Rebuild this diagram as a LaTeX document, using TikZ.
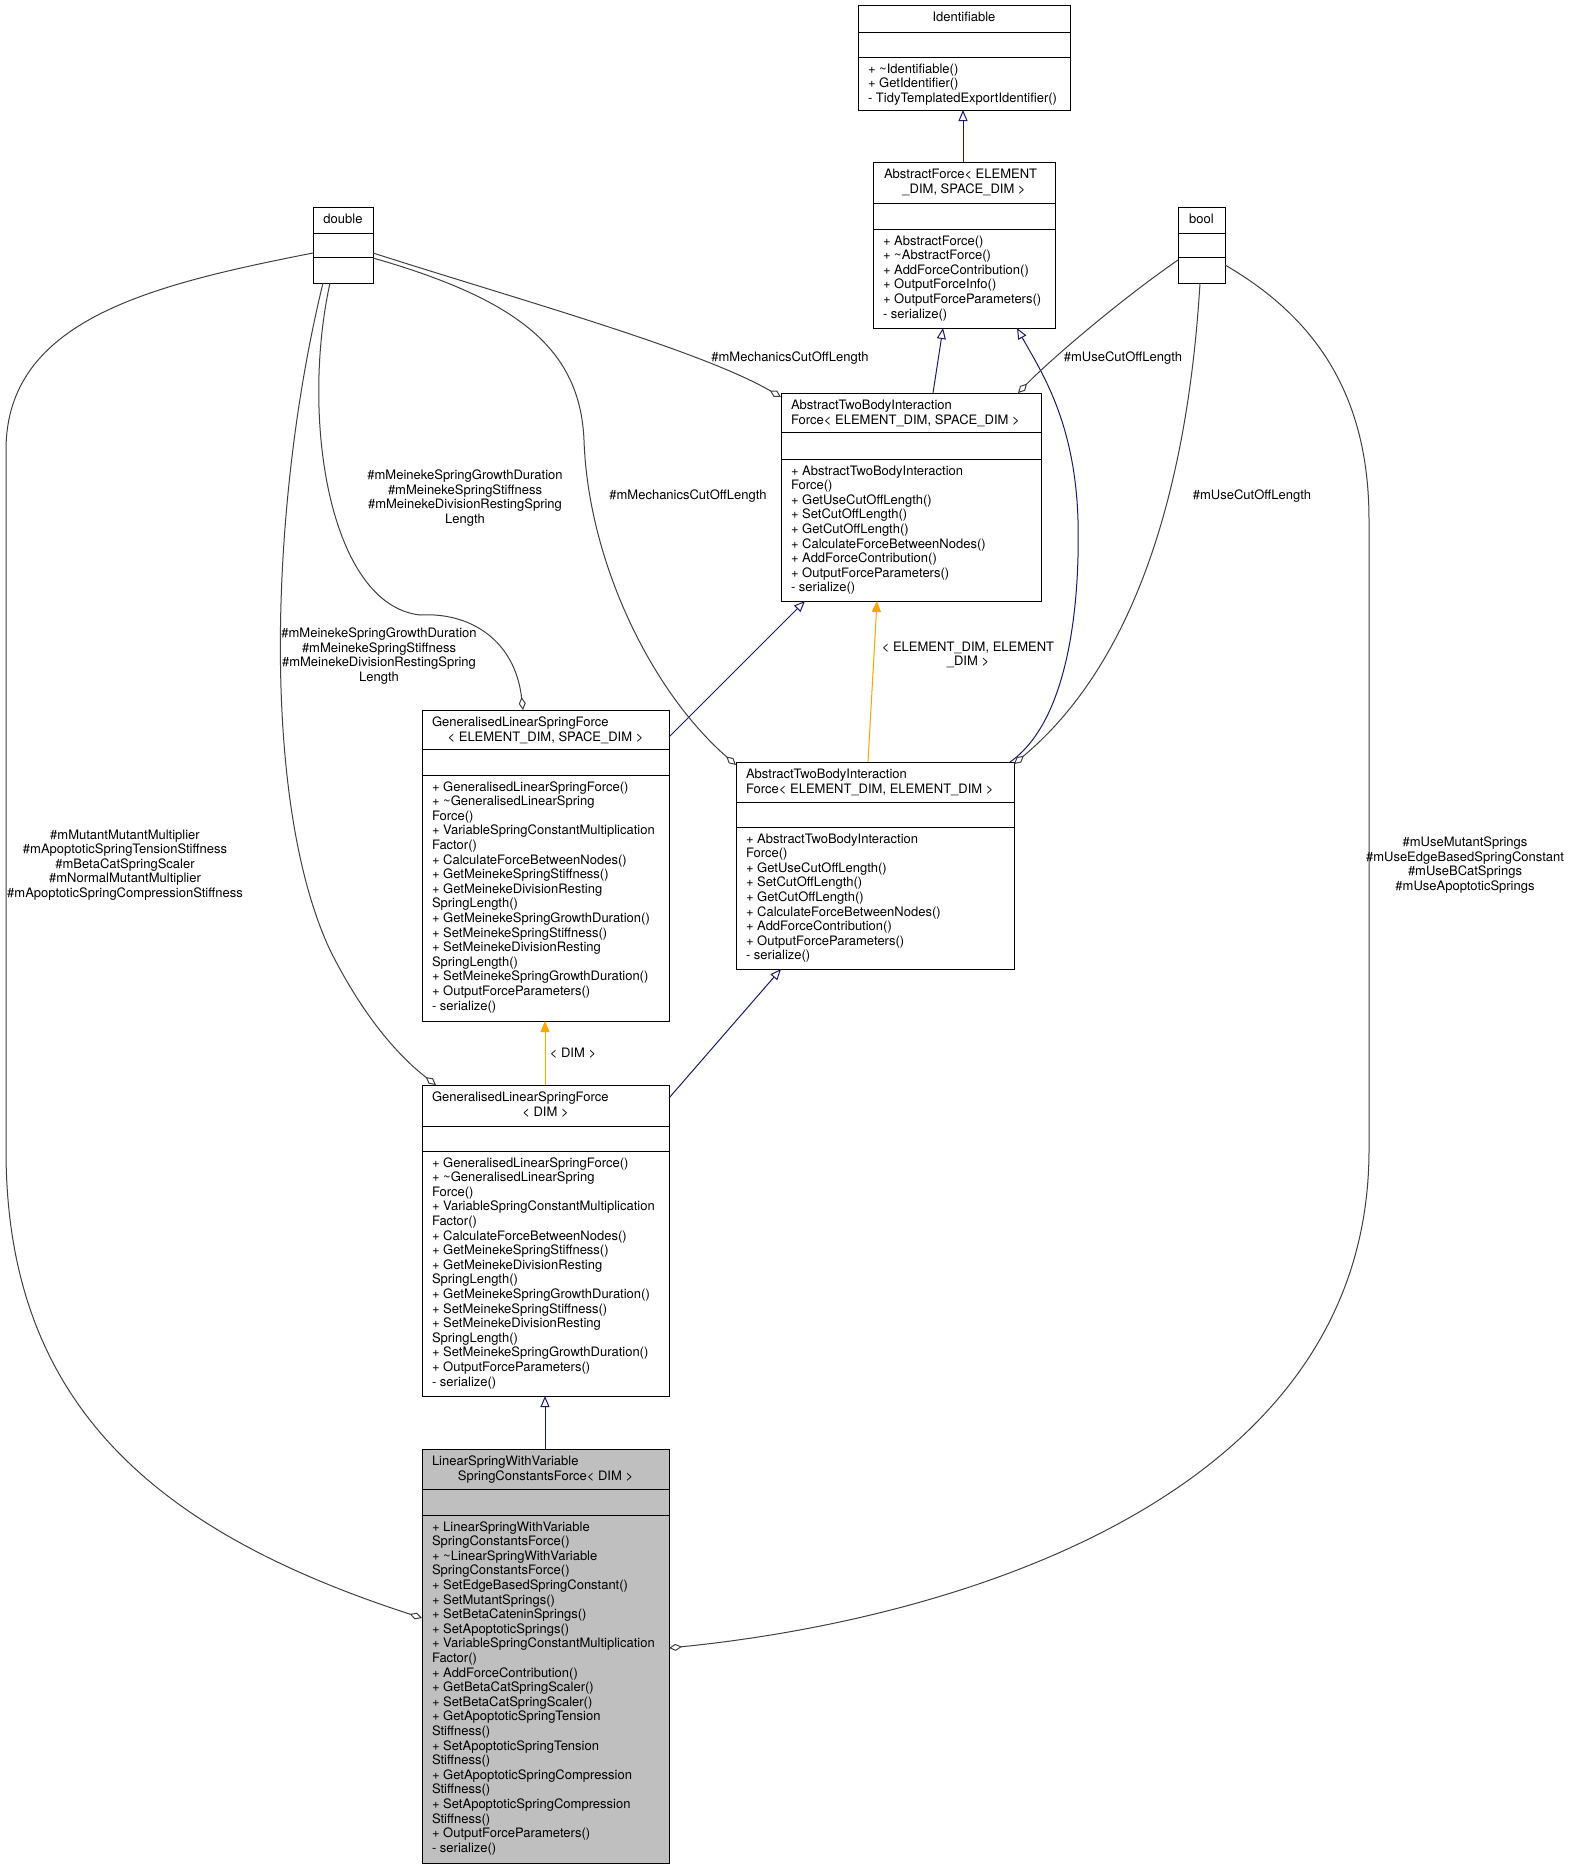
\documentclass[tikz,border=0pt]{standalone}
\usepackage{fontspec}
\setmainfont{TeX Gyre Heros}
\usetikzlibrary{arrows.meta,calc}
\definecolor{edgenavy}{HTML}{191970}
\definecolor{edgeorange}{HTML}{FFA500}
\definecolor{edgegray}{HTML}{404040}
\definecolor{boxgray}{HTML}{BFBFBF}
\newcommand\mystr{\vrule height 10pt depth 0pt width 0pt}
\newcommand\tld{\textasciitilde}
\newcommand\twoseps[3]{%
  \draw[line width=1pt] ($(#1.north west)+(0,#2)$) -- ($(#1.north east)+(0,#2)$);
  \draw[line width=1pt] ($(#1.north west)+(0,#3)$) -- ($(#1.north east)+(0,#3)$);}
\begin{document}
\begin{tikzpicture}[x=1pt,y=-1pt,
 box/.style={draw=black, line width=1pt, inner sep=0pt, outer sep=0pt, anchor=north west},
 fnt/.style={font=\fontsize{13}{14.6}\selectfont, inner sep=0pt, outer sep=0pt},
 mem/.style={fnt, align=left, anchor=north west},
 ttlL/.style={fnt, anchor=base west},
 ttlC/.style={fnt, anchor=base},
 lbl/.style={fnt, align=center},
 inh/.style={draw=edgenavy, line width=1pt, -{Triangle[open, length=11pt, width=9pt]}},
 tmpl/.style={draw=edgeorange, fill=edgeorange, line width=1pt, -{Triangle[length=11pt, width=9pt]}},
 agg/.style={draw=edgegray, line width=1pt, -{Diamond[open, length=13pt, width=7pt]}},
]
\useasboundingbox (0,0) rectangle (1571,1869);
\fill[white] (0,0) rectangle (1571,1869);

% ---------- Identifiable
\node[box, minimum width=212pt, minimum height=105pt] (ident) at (858,5) {};
\twoseps{ident}{27}{52}
\node[ttlC] (ident-t) at ($(ident.north)+(0,16.5)$) {Identifiable};
\node[mem] (ident-m) at ($(ident.north west)+(10,58)$) {\mystr+ \tld Identifiable()\\+ GetIdentifier()\\- TidyTemplatedExportIdentifier()};

% ---------- AbstractForce
\node[box, minimum width=182pt, minimum height=166pt] (aforce) at (873,162) {};
\twoseps{aforce}{41}{67}
\node[ttlL] (aforce-t1) at ($(aforce.north west)+(11,16.5)$) {AbstractForce< ELEMENT};
\node[ttlC] (aforce-t2) at ($(aforce.north)+(0,31.1)$) {\_DIM, SPACE\_DIM >};
\node[mem] (aforce-m) at ($(aforce.north west)+(10,73)$) {\mystr+ AbstractForce()\\+ \tld AbstractForce()\\+ AddForceContribution()\\+ OutputForceInfo()\\+ OutputForceParameters()\\- serialize()};

% ---------- double
\node[box, minimum width=60pt, minimum height=76pt] (dbl) at (313,207) {};
\twoseps{dbl}{26}{50}
\node[ttlC] (dbl-t) at ($(dbl.north)+(0,16.5)$) {double};

% ---------- bool
\node[box, minimum width=47pt, minimum height=76pt] (bool) at (1178,207) {};
\twoseps{bool}{26}{50}
\node[ttlC] (bool-t) at ($(bool.north)+(0,16.5)$) {bool};

% ---------- AbstractTwoBodyInteractionForce< ELEMENT_DIM, SPACE_DIM >
\node[box, minimum width=260pt, minimum height=208pt] (atbS) at (781,393) {};
\twoseps{atbS}{39}{66}
\node[ttlL] (atbS-t1) at ($(atbS.north west)+(10,16.5)$) {AbstractTwoBodyInteraction};
\node[ttlL] (atbS-t2) at ($(atbS.north west)+(10,31.1)$) {Force< ELEMENT\_DIM, SPACE\_DIM >};
\node[mem] (atbS-m) at ($(atbS.north west)+(10,72)$) {\mystr+ AbstractTwoBodyInteraction\\Force()\\+ GetUseCutOffLength()\\+ SetCutOffLength()\\+ GetCutOffLength()\\+ CalculateForceBetweenNodes()\\+ AddForceContribution()\\+ OutputForceParameters()\\- serialize()};

% ---------- GeneralisedLinearSpringForce< ELEMENT_DIM, SPACE_DIM >
\node[box, minimum width=247pt, minimum height=311pt] (glsS) at (422,710) {};
\twoseps{glsS}{39}{65}
\node[ttlL] (glsS-t1) at ($(glsS.north west)+(10,16.5)$) {GeneralisedLinearSpringForce};
\node[ttlC] (glsS-t2) at ($(glsS.north)+(0,31.1)$) {< ELEMENT\_DIM, SPACE\_DIM >};
\node[mem] (glsS-m) at ($(glsS.north west)+(10,71)$) {\mystr+ GeneralisedLinearSpringForce()\\+ \tld GeneralisedLinearSpring\\Force()\\+ VariableSpringConstantMultiplication\\Factor()\\+ CalculateForceBetweenNodes()\\+ GetMeinekeSpringStiffness()\\+ GetMeinekeDivisionResting\\SpringLength()\\+ GetMeinekeSpringGrowthDuration()\\+ SetMeinekeSpringStiffness()\\+ SetMeinekeDivisionResting\\SpringLength()\\+ SetMeinekeSpringGrowthDuration()\\+ OutputForceParameters()\\- serialize()};

% ---------- AbstractTwoBodyInteractionForce< ELEMENT_DIM, ELEMENT_DIM >
\node[box, minimum width=278pt, minimum height=207pt] (atbE) at (736,762) {};
\twoseps{atbE}{40}{65}
\node[ttlL] (atbE-t1) at ($(atbE.north west)+(10,16.5)$) {AbstractTwoBodyInteraction};
\node[ttlL] (atbE-t2) at ($(atbE.north west)+(10,31.1)$) {Force< ELEMENT\_DIM, ELEMENT\_DIM >};
\node[mem] (atbE-m) at ($(atbE.north west)+(10,71)$) {\mystr+ AbstractTwoBodyInteraction\\Force()\\+ GetUseCutOffLength()\\+ SetCutOffLength()\\+ GetCutOffLength()\\+ CalculateForceBetweenNodes()\\+ AddForceContribution()\\+ OutputForceParameters()\\- serialize()};

% ---------- GeneralisedLinearSpringForce< DIM >
\node[box, minimum width=247pt, minimum height=311pt] (glsD) at (422,1085) {};
\twoseps{glsD}{41}{66}
\node[ttlL] (glsD-t1) at ($(glsD.north west)+(10,16.5)$) {GeneralisedLinearSpringForce};
\node[ttlC] (glsD-t2) at ($(glsD.north)+(0,31.1)$) {< DIM >};
\node[mem] (glsD-m) at ($(glsD.north west)+(10,72)$) {\mystr+ GeneralisedLinearSpringForce()\\+ \tld GeneralisedLinearSpring\\Force()\\+ VariableSpringConstantMultiplication\\Factor()\\+ CalculateForceBetweenNodes()\\+ GetMeinekeSpringStiffness()\\+ GetMeinekeDivisionResting\\SpringLength()\\+ GetMeinekeSpringGrowthDuration()\\+ SetMeinekeSpringStiffness()\\+ SetMeinekeDivisionResting\\SpringLength()\\+ SetMeinekeSpringGrowthDuration()\\+ OutputForceParameters()\\- serialize()};

% ---------- LinearSpringWithVariableSpringConstantsForce< DIM >
\node[box, fill=boxgray, minimum width=247pt, minimum height=414pt] (lsw) at (422,1449) {};
\twoseps{lsw}{40}{66}
\node[ttlL] (lsw-t1) at ($(lsw.north west)+(10,16.5)$) {LinearSpringWithVariable};
\node[ttlC] (lsw-t2) at ($(lsw.north)+(0,31.1)$) {SpringConstantsForce< DIM >};
\node[mem] (lsw-m) at ($(lsw.north west)+(10,72)$) {\mystr+ LinearSpringWithVariable\\SpringConstantsForce()\\+ \tld LinearSpringWithVariable\\SpringConstantsForce()\\+ SetEdgeBasedSpringConstant()\\+ SetMutantSprings()\\+ SetBetaCateninSprings()\\+ SetApoptoticSprings()\\+ VariableSpringConstantMultiplication\\Factor()\\+ AddForceContribution()\\+ GetBetaCatSpringScaler()\\+ SetBetaCatSpringScaler()\\+ GetApoptoticSpringTension\\Stiffness()\\+ SetApoptoticSpringTension\\Stiffness()\\+ GetApoptoticSpringCompression\\Stiffness()\\+ SetApoptoticSpringCompression\\Stiffness()\\+ OutputForceParameters()\\- serialize()};

% ---------- inheritance edges
\draw[inh] ($(aforce.north west)+(90,0)$) -- ($(ident.south west)+(105,0)$);
\draw[inh] ($(atbS.north west)+(152,0)$) -- ($(aforce.south west)+(70,0)$);
\draw[inh] ($(atbE.north east)+(-4,0)$) .. controls (1070,720) and (1080,600) .. (1078,520)
   .. controls (1075,420) and (1040,370) .. ($(aforce.south west)+(144,0)$);
\draw[inh] ($(glsS.north east)+(0,27)$) -- ($(atbS.south west)+(24,0)$);
\draw[inh] ($(glsD.north east)+(0,13)$) -- ($(atbE.south west)+(45,0)$);
\draw[inh] ($(lsw.north west)+(123,0)$) -- ($(glsD.south west)+(123,0)$);

% ---------- template edges
\draw[tmpl] ($(atbE.north west)+(132,0)$) -- ($(atbS.south west)+(96,0)$);
\draw[tmpl] ($(glsD.north west)+(123,0)$) -- ($(glsS.south west)+(123,0)$);
\node[lbl] (l-tm1) at (968,655) {< ELEMENT\_DIM, ELEMENT\\\_DIM >};
\node[lbl] (l-tm2) at (573,1053) {< DIM >};

% ---------- aggregation edges
\draw[agg] ($(dbl.east)+(0,8)$) .. controls (520,300) and (700,350) .. ($(atbS.north west)+(0,4)$);
\draw[agg] ($(dbl.east)+(0,13)$) .. controls (520,300) and (580,350) .. (584,440)
   .. controls (588,560) and (650,690) .. ($(atbE.north west)+(0,3)$);
\draw[agg] ($(dbl.south west)+(17,0)$) .. controls (300,420) and (330,605) .. (420,615)
   .. controls (470,612) and (515,640) .. ($(glsS.north west)+(101,0)$);
\draw[agg] ($(dbl.south west)+(10,0)$) .. controls (270,500) and (260,800) .. (330,950)
   .. controls (370,1030) and (410,1065) .. ($(glsD.north west)+(14,0)$);
\draw[agg] ($(dbl.west)+(0,8)$) .. controls (150,285) and (6,320) .. (6,450) -- (6,1150)
   .. controls (6,1400) and (150,1530) .. ($(lsw.west)+(0,-38)$);
\draw[agg] ($(bool.west)+(0,15)$) .. controls (1120,300) and (1050,360) .. ($(atbS.north east)+(-23,0)$);
\draw[agg] ($(bool.south west)+(22,0)$) .. controls (1190,450) and (1150,650) .. ($(atbE.north east)+(0,2)$);
\draw[agg] ($(bool.east)+(0,20)$) .. controls (1320,320) and (1369,400) .. (1369,520) -- (1369,1150)
   .. controls (1369,1500) and (950,1620) .. ($(lsw.east)+(0,-8)$);

% ---------- aggregation labels
\node[lbl] (l-mc1) at (790,358) {\#mMechanicsCutOffLength};
\node[lbl] (l-uc1) at (1123,358) {\#mUseCutOffLength};
\node[lbl] (l-mc2) at (688,496) {\#mMechanicsCutOffLength};
\node[lbl] (l-uc2) at (1252,496) {\#mUseCutOffLength};
\node[lbl] (l-me1) at (465,498) {\#mMeinekeSpringGrowthDuration\\\#mMeinekeSpringStiffness\\\#mMeinekeDivisionRestingSpring\\Length};
\node[lbl] (l-me2) at (379,656) {\#mMeinekeSpringGrowthDuration\\\#mMeinekeSpringStiffness\\\#mMeinekeDivisionRestingSpring\\Length};
\node[lbl] (l-left) at (125,865) {\#mMutantMutantMultiplier\\\#mApoptoticSpringTensionStiffness\\\#mBetaCatSpringScaler\\\#mNormalMutantMultiplier\\\#mApoptoticSpringCompressionStiffness};
\node[lbl] (l-right) at (1465,865) {\#mUseMutantSprings\\\#mUseEdgeBasedSpringConstant\\\#mUseBCatSprings\\\#mUseApoptoticSprings};
\end{tikzpicture}
\end{document}
